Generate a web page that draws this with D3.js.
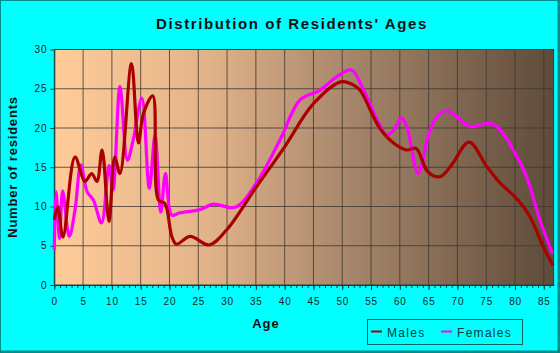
<!DOCTYPE html>
<html>
<head>
<meta charset="utf-8">
<script src="https://cdn.jsdelivr.net/npm/d3@7"></script>
<style>
  body { margin: 0; background: #00ffff; }
  svg { display: block; font-family: Arial, "Liberation Sans", sans-serif; }
</style>
</head>
<body>
<svg id="chart"></svg>
<script>
// values (age -> number of residents)
const maleAges = [0, 0.6, 1.5, 3.6, 5.3, 6.5, 7.4, 8.3, 9.5, 10.5, 11.4, 13.4, 14.6, 15.5, 17.1, 18.1, 19.2, 20.4, 21.2, 23.6, 26.9, 29.9, 35.1, 40, 45, 49.9, 51.9, 53.1, 56.5, 58.9, 61.2, 62.8, 64.9, 67, 69, 72, 75.1, 77.4, 80.3, 82.6, 84.9, 86.6];
const maleValues = [8.3, 10, 6.1, 16.3, 13.2, 14.2, 13.2, 17.2, 8.1, 16.3, 14.2, 28.2, 18.1, 21.9, 24.1, 10.8, 10.4, 6.2, 5.2, 6.2, 5.1, 7.0, 12.5, 17.6, 23.1, 25.9, 25.5, 24.8, 20.0, 18.1, 17.2, 17.4, 14.4, 13.8, 15.3, 18.2, 15.1, 13.0, 11.0, 8.7, 4.9, 2.5];

const femaleAges = [0, 0.3, 0.9, 1.45, 2.6, 3.6, 4.6, 5.7, 6.8, 8.2, 9.5, 10.2, 11.4, 12.7, 13.7, 15.2, 16.5, 17.5, 18.5, 19.3, 20.4, 21.8, 25.3, 27.6, 31.4, 35.1, 39.2, 42.7, 46.1, 49, 51.6, 53.6, 56.5, 57.7, 58.9, 60.3, 61.2, 63.2, 64.9, 66.4, 68.2, 72.2, 75.9, 77.7, 79.7, 82, 84.3, 86.5];
const femaleValues = [4.5, 11.9, 5.9, 12, 6.2, 9.6, 15.3, 11.9, 10.8, 7.9, 15.2, 12.1, 25.3, 15.9, 18.5, 23.8, 12.3, 19.1, 9.3, 14.2, 8.9, 9.2, 9.6, 10.3, 9.9, 13.0, 18.5, 23.6, 24.8, 26.5, 27.4, 25.0, 20.4, 19.1, 19.7, 21.3, 20.2, 14.2, 18.9, 21.4, 22.2, 20.2, 20.6, 19.5, 17.2, 13.8, 8.3, 4.0];

const xTicks = [0, 5, 10, 15, 20, 25, 30, 35, 40, 45, 50, 55, 60, 65, 70, 75, 80, 85];
const yTicks = [0, 5, 10, 15, 20, 25, 30];
const seriesNames = ['Males', 'Females'];
const seriesColors = ['#aa0000', '#ff00ff'];

class AgeChart {

  constructor(_config) {
    this.config = {
      parentElement: _config.parentElement,
      containerWidth: _config.containerWidth || 560,
      containerHeight: _config.containerHeight || 353,
      margin: _config.margin || { top: 49.5, right: 6.4, bottom: 68, left: 54.3 }
    };
    this.initVis();
  }

  initVis() {
    let vis = this;

    vis.width = vis.config.containerWidth - vis.config.margin.left - vis.config.margin.right;
    vis.height = vis.config.containerHeight - vis.config.margin.top - vis.config.margin.bottom;

    vis.xScale = d3.scaleLinear().domain([0, 86.7]).range([0, vis.width]);
    vis.yScale = d3.scaleLinear().domain([0, 30]).range([vis.height, 0]);

    vis.svg = d3.select(vis.config.parentElement)
      .attr('width', vis.config.containerWidth)
      .attr('height', vis.config.containerHeight);

    // outer frame: thin on top/left, thicker on right/bottom
    vis.svg.append('rect')
      .attr('width', vis.config.containerWidth)
      .attr('height', vis.config.containerHeight)
      .attr('fill', '#008b8b');
    vis.svg.append('rect')
      .attr('x', 1).attr('y', 1)
      .attr('width', 556.5)
      .attr('height', 349.5)
      .attr('fill', '#00ffff');

    // plot background gradient
    let grad = vis.svg.append('defs').append('linearGradient')
      .attr('id', 'bg').attr('x1', '0%').attr('x2', '100%').attr('y1', '0%').attr('y2', '0%');
    grad.append('stop').attr('offset', '0%').attr('stop-color', '#ffcc99');
    grad.append('stop').attr('offset', '30%').attr('stop-color', '#e3b48a');
    grad.append('stop').attr('offset', '60%').attr('stop-color', '#a5856a');
    grad.append('stop').attr('offset', '100%').attr('stop-color', '#5e4b3a');

    vis.chart = vis.svg.append('g')
      .attr('transform', `translate(${vis.config.margin.left},${vis.config.margin.top})`);

    vis.chart.append('rect')
      .attr('width', vis.width).attr('height', vis.height)
      .attr('fill', 'url(#bg)');

    // grid
    vis.chart.append('g').selectAll('line.vg')
      .data(xTicks.filter(d => d > 0))
      .join('line')
      .attr('x1', d => vis.xScale(d)).attr('x2', d => vis.xScale(d))
      .attr('y1', 0).attr('y2', vis.height)
      .attr('stroke', '#3e362f').attr('stroke-opacity', 0.8).attr('stroke-width', 1);
    vis.chart.append('g').selectAll('line.hg')
      .data(yTicks.filter(d => d > 0))
      .join('line')
      .attr('y1', d => vis.yScale(d)).attr('y2', d => vis.yScale(d))
      .attr('x1', 0).attr('x2', vis.width)
      .attr('stroke', '#3e362f').attr('stroke-opacity', 0.8).attr('stroke-width', 1);
    vis.chart.append('rect')
      .attr('width', vis.width).attr('height', vis.height)
      .attr('fill', 'none').attr('stroke', '#3a3a3a').attr('stroke-width', 1);

    // axes
    vis.xAxis = d3.axisBottom(vis.xScale).tickValues(xTicks).tickSize(5).tickSizeOuter(0).tickPadding(8);
    vis.xMinor = d3.axisBottom(vis.xScale).tickValues(d3.range(0, 87, 1)).tickSize(3).tickSizeOuter(0).tickFormat('');
    vis.yAxis = d3.axisLeft(vis.yScale).tickValues(yTicks).tickSize(4).tickSizeOuter(0).tickPadding(3);

    vis.xMinorG = vis.chart.append('g').attr('transform', `translate(0,${vis.height})`);
    vis.xAxisG = vis.chart.append('g').attr('class', 'axis x-axis').attr('transform', `translate(0,${vis.height})`);
    vis.yAxisG = vis.chart.append('g').attr('class', 'axis y-axis');

    // titles
    vis.svg.append('text')
      .attr('x', 292).attr('y', 29)
      .attr('text-anchor', 'middle')
      .attr('font-size', '15px').attr('font-weight', 'bold')
      .attr('letter-spacing', '1.6px')
      .attr('fill', '#111')
      .text("Distribution of Residents' Ages");

    vis.svg.append('text')
      .attr('transform', 'translate(17,167) rotate(-90)')
      .attr('text-anchor', 'middle')
      .attr('font-size', '13px').attr('font-weight', 'bold')
      .attr('letter-spacing', '0.8px')
      .attr('fill', '#111')
      .text('Number of residents');

    vis.svg.append('text')
      .attr('x', 266).attr('y', 328)
      .attr('text-anchor', 'middle')
      .attr('font-size', '13px').attr('font-weight', 'bold')
      .attr('letter-spacing', '1px')
      .attr('fill', '#111')
      .text('Age');
  }

  updateVis() {
    let vis = this;
    vis.series = [
      maleAges.map((a, i) => ({ age: a, value: maleValues[i] })),
      femaleAges.map((a, i) => ({ age: a, value: femaleValues[i] }))
    ];
    vis.line = d3.line()
      .x(d => vis.xScale(d.age))
      .y(d => vis.yScale(d.value))
      .curve(d3.curveCatmullRom.alpha(0.5));
    vis.renderVis();
  }

  renderVis() {
    let vis = this;

    // females first so males sit on top
    vis.chart.selectAll('.series')
      .data([1, 0])
      .join('path')
      .attr('class', 'series')
      .attr('d', i => vis.line(vis.series[i]))
      .attr('fill', 'none')
      .attr('stroke', i => seriesColors[i])
      .attr('stroke-width', 3.2)
      .attr('stroke-linejoin', 'round');

    vis.xMinorG.call(vis.xMinor);
    vis.xAxisG.call(vis.xAxis);
    vis.yAxisG.call(vis.yAxis);

    vis.svg.selectAll('.axis path, .axis line, g path.domain')
      .attr('stroke', '#004848');
    vis.xMinorG.selectAll('line').attr('stroke', '#004848');
    vis.svg.selectAll('.axis text')
      .attr('font-family', 'Arial, "Liberation Sans", sans-serif')
      .attr('font-size', '10px')
      .attr('letter-spacing', '0.8px')
      .attr('fill', '#222');

    // legend
    let legend = vis.svg.append('g').attr('transform', 'translate(367.5,319.5)');
    legend.append('rect')
      .attr('width', 155).attr('height', 25)
      .attr('fill', 'none').attr('stroke', '#006060');
    let items = legend.selectAll('g.item')
      .data(seriesNames)
      .join('g')
      .attr('transform', (d, i) => `translate(${i === 0 ? 3.5 : 73.5},0)`);
    items.append('line')
      .attr('x1', 0).attr('x2', 11).attr('y1', 12).attr('y2', 12)
      .attr('stroke', (d, i) => seriesColors[i]).attr('stroke-width', 2);
    items.append('text')
      .attr('x', 16).attr('y', 17)
      .attr('font-size', '12px')
      .attr('letter-spacing', '1.3px')
      .attr('fill', '#003c3c')
      .text(d => d);
  }
}

let chart = new AgeChart({ parentElement: '#chart' });
chart.updateVis();
</script>
</body>
</html>
